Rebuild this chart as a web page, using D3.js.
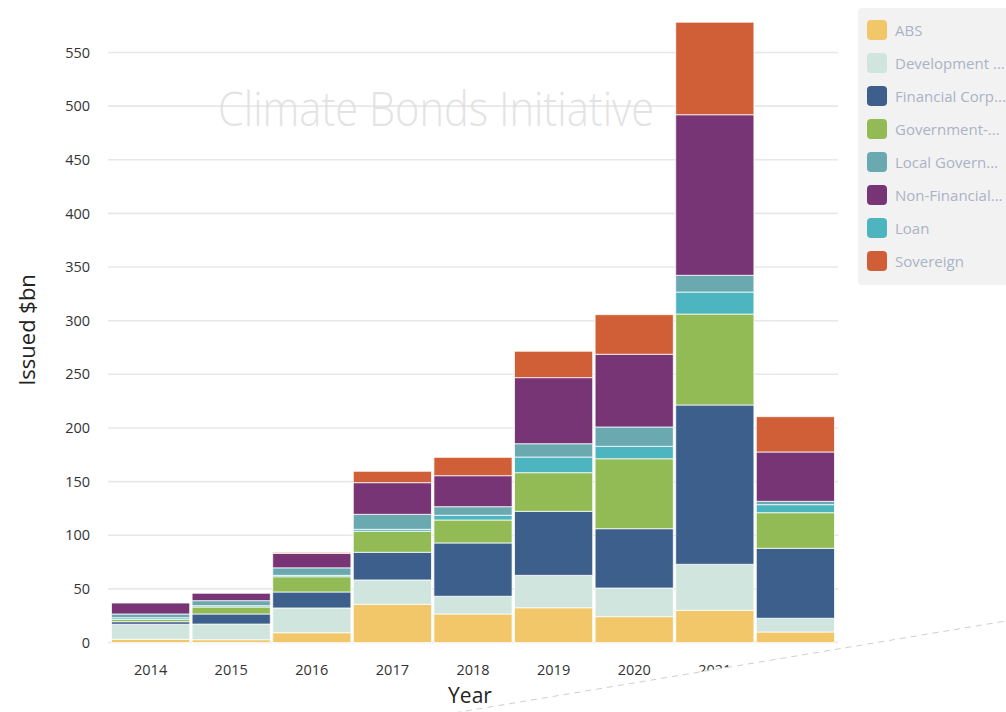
<!DOCTYPE html>
<html>
<head>
<meta charset="utf-8">
<script src="https://cdn.jsdelivr.net/npm/d3@7/dist/d3.min.js"></script>
<style>
  html, body { margin: 0; padding: 0; background: #fff; }
  svg { display: block; font-family: "Open Sans", "Noto Sans", sans-serif; }
</style>
</head>
<body>
<svg id="chart" width="1006" height="712"></svg>
<script>
// ---- data ----
const years = ["2014","2015","2016","2017","2018","2019","2020","2021","2022"];
const absV    = [3.0, 2.6, 9.1, 35.6, 26.6, 32.4, 24.1, 30.0, 9.8];
const devV    = [14.0, 14.6, 23.1, 22.7, 16.5, 30.2, 26.7, 42.9, 12.8];
const finV    = [2.4, 9.4, 14.9, 25.8, 49.7, 59.7, 55.3, 148.5, 65.2];
const govV    = [2.2, 6.5, 14.2, 19.6, 21.4, 36.0, 65.2, 84.8, 33.2];
const loanV   = [1.5, 1.2, 1.3, 1.8, 4.4, 14.6, 11.6, 20.5, 7.5];
const localV  = [3.5, 4.7, 7.0, 14.0, 8.0, 12.4, 18.0, 15.6, 3.1];
const nonFinV = [10.2, 6.9, 13.5, 29.5, 28.9, 61.6, 67.8, 149.7, 46.0];
const sovV    = [0, 0, 1.0, 10.6, 17.1, 24.6, 36.9, 86.2, 32.9];
const yTicks  = [0, 50, 100, 150, 200, 250, 300, 350, 400, 450, 500, 550];

// stacking order (bottom -> top)
const stackKeys = ["ABS","Development","Financial","Government","Loan","Local","NonFinancial","Sovereign"];
const seriesValues = {
  ABS: absV, Development: devV, Financial: finV, Government: govV,
  Loan: loanV, Local: localV, NonFinancial: nonFinV, Sovereign: sovV
};
const colors = {
  ABS: "#f2c76a", Development: "#cfe5de", Financial: "#3d5f8c", Government: "#93bb55",
  Local: "#6aa9b0", NonFinancial: "#773576", Loan: "#4db5c0", Sovereign: "#d05e37"
};
// legend order and labels
const legendKeys = ["ABS","Development","Financial","Government","Local","NonFinancial","Loan","Sovereign"];
const legendLabels = ["ABS","Development ...","Financial Corp...","Government-...","Local Govern...","Non-Financial...","Loan","Sovereign"];

const table = years.map((yr, i) => {
  const row = { year: yr };
  stackKeys.forEach(k => row[k] = seriesValues[k][i]);
  return row;
});

const svg = d3.select("#chart");

const x = d3.scaleBand().domain(years).range([111.5, 834.5]).paddingInner(0.03).paddingOuter(0);
const y = d3.scaleLinear().domain([0, 550]).range([642.5, 52.5]);

// gridlines
svg.append("g").selectAll("line").data(yTicks).join("line")
  .attr("x1", 108).attr("x2", 838)
  .attr("y1", d => y(d)).attr("y2", d => y(d))
  .attr("stroke", "#e8e8e8").attr("stroke-width", 1.6);

// watermark
svg.append("text")
  .attr("x", 218).attr("y", 126)
  .attr("textLength", 436).attr("lengthAdjust", "spacingAndGlyphs")
  .attr("font-size", 48).attr("font-weight", 300)
  .attr("fill", "#dedede").attr("fill-opacity", 0.85)
  .text("Climate Bonds Initiative");

// y axis
const yAxis = d3.axisLeft(y).tickValues(yTicks).tickSize(0).tickPadding(0);
const gy = svg.append("g").attr("transform", "translate(90,0)").call(yAxis);
gy.select(".domain").remove();
gy.selectAll("text").attr("font-size", 14.5).attr("fill", "#333")
  .attr("font-family", "'Open Sans', sans-serif");

// x axis
const xAxis = d3.axisBottom(x).tickSize(0).tickPadding(0);
const gx = svg.append("g").attr("transform", "translate(0,665)").call(xAxis);
gx.select(".domain").remove();
gx.selectAll("text").attr("font-size", 14.5).attr("fill", "#333")
  .attr("font-family", "'Open Sans', sans-serif");

// stacked bars
const stack = d3.stack().keys(stackKeys)(table);
svg.append("g").selectAll("g").data(stack).join("g")
  .attr("fill", d => colors[d.key])
  .selectAll("rect").data(d => d).join("rect")
  .attr("x", d => x(d.data.year))
  .attr("width", x.bandwidth())
  .attr("y", d => y(d[1]))
  .attr("height", d => Math.max(0, y(d[0]) - y(d[1])))
  .attr("stroke", "#ffffff").attr("stroke-width", 1).attr("stroke-opacity", 0.75);

// axis titles
svg.append("text")
  .attr("transform", "translate(35,330) rotate(-90)")
  .attr("text-anchor", "middle")
  .attr("font-size", 22).attr("fill", "#222")
  .text("Issued $bn");

svg.append("text")
  .attr("x", 470).attr("y", 703)
  .attr("text-anchor", "middle")
  .attr("font-size", 21).attr("fill", "#222")
  .text("Year");

// legend
const lg = svg.append("g");
lg.append("rect").attr("x", 858).attr("y", 8).attr("width", 170).attr("height", 277)
  .attr("rx", 4).attr("fill", "#f2f2f2");
const items = lg.selectAll("g.item").data(legendKeys).join("g").attr("class", "item")
  .attr("transform", (d, i) => `translate(867,${20 + i * 33})`);
items.append("rect").attr("width", 20).attr("height", 20).attr("rx", 4)
  .attr("fill", d => colors[d]);
items.append("text").attr("x", 28).attr("y", 15.5)
  .attr("font-size", 15).attr("fill", "#abb2c6")
  .text((d, i) => legendLabels[i]);

// page-curl overlay seen in the reference (white wedge with faint dashed edge)
svg.append("path")
  .attr("d", "M455,712.8 L1006,621 L1006,712 Z")
  .attr("fill", "#ffffff");
svg.append("line")
  .attr("x1", 455).attr("y1", 712.8).attr("x2", 1006).attr("y2", 621)
  .attr("stroke", "#cfcfcf").attr("stroke-width", 1).attr("stroke-dasharray", "6,5");
</script>
</body>
</html>
